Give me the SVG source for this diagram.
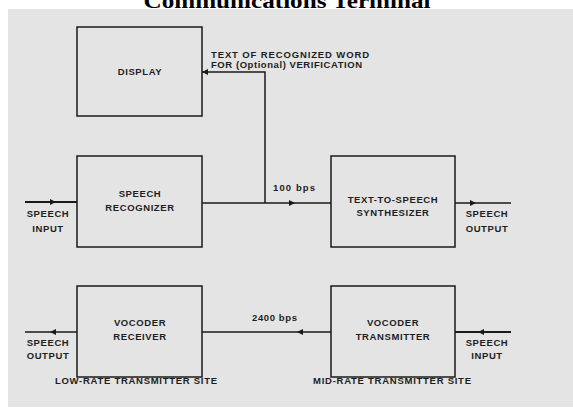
<svg xmlns="http://www.w3.org/2000/svg" width="573" height="410" viewBox="0 0 573 410">
<style>
.box{fill:none;stroke:#1a1a1a;stroke-width:1.5}
.ln{fill:none;stroke:#1a1a1a;stroke-width:1.5}
.lt{fill:none;stroke:#1a1a1a;stroke-width:2}
.t{font-family:"Liberation Sans",Arial,sans-serif;font-weight:bold;font-size:9.5px;fill:#1e1e1e;text-anchor:middle;letter-spacing:0.6px}
.tl{font-family:"Liberation Sans",Arial,sans-serif;font-weight:bold;font-size:9.5px;fill:#1e1e1e}
</style>
<defs>
<marker id="ah" viewBox="0 0 10 10" refX="10" refY="5" markerWidth="9" markerHeight="6" markerUnits="userSpaceOnUse" orient="auto">
<path d="M0,0 L10,5 L0,10 z" fill="#1a1a1a"/>
</marker>
</defs>
<rect x="0" y="0" width="573" height="410" fill="#ffffff"/>
<rect x="8" y="9" width="565" height="398" fill="#e4e4e4"/>
<text x="287" y="8" font-family="'Liberation Serif','Times New Roman',serif" font-weight="bold" font-size="22" text-anchor="middle" textLength="287" lengthAdjust="spacingAndGlyphs" fill="#000">Communications Terminal</text>

<g id="connectors">
<path class="lt" d="M25,202 L56,202" marker-end="url(#ah)"/>
<path class="lt" d="M56,202 L77,202"/>
<path class="ln" d="M202,203 L295,203" marker-end="url(#ah)"/>
<path class="ln" d="M295,203 L331,203"/>
<path class="ln" d="M265,203 L265,72 L202,72" marker-end="url(#ah)"/>
<path class="ln" d="M455,203 L476,203" marker-end="url(#ah)"/>
<path class="ln" d="M476,203 L511,203"/>
<path class="lt" d="M511,332 L478,332" marker-end="url(#ah)"/>
<path class="lt" d="M478,332 L455,332"/>
<path class="ln" d="M331,332 L297,332" marker-end="url(#ah)"/>
<path class="ln" d="M297,332 L202,332"/>
<path class="ln" d="M77,332 L50,332" marker-end="url(#ah)"/>
<path class="ln" d="M50,332 L25,332"/>
</g>

<g id="display">
<rect class="box" x="77" y="27" width="125" height="89"/>
<text class="t" x="140" y="75">DISPLAY</text>
</g>
<g id="recognizer">
<rect class="box" x="77" y="156" width="125" height="91"/>
<text class="t" x="140" y="197">SPEECH</text>
<text class="t" x="140" y="211">RECOGNIZER</text>
</g>
<g id="synthesizer">
<rect class="box" x="331" y="156" width="124" height="91"/>
<text class="t" x="393" y="203">TEXT-TO-SPEECH</text>
<text class="t" x="393" y="216">SYNTHESIZER</text>
</g>
<g id="receiver">
<rect class="box" x="77" y="286" width="125" height="91"/>
<text class="t" x="140" y="326">VOCODER</text>
<text class="t" x="140" y="340">RECEIVER</text>
</g>
<g id="transmitter">
<rect class="box" x="331" y="286" width="124" height="91"/>
<text class="t" x="393" y="326">VOCODER</text>
<text class="t" x="393" y="340">TRANSMITTER</text>
</g>

<g id="labels">
<text class="tl" x="211" y="58" textLength="158" lengthAdjust="spacing">TEXT OF RECOGNIZED WORD</text>
<text class="tl" x="211" y="68" textLength="151" lengthAdjust="spacing">FOR (Optional) VERIFICATION</text>
<text class="tl" x="273" y="191" textLength="42" lengthAdjust="spacing">100 bps</text>
<text class="tl" x="252" y="321" textLength="45" lengthAdjust="spacing">2400 bps</text>
<text class="t" x="48" y="217">SPEECH</text>
<text class="t" x="48" y="232">INPUT</text>
<text class="t" x="487" y="217">SPEECH</text>
<text class="t" x="487" y="232">OUTPUT</text>
<text class="t" x="48" y="346">SPEECH</text>
<text class="t" x="48" y="359">OUTPUT</text>
<text class="t" x="487" y="346">SPEECH</text>
<text class="t" x="487" y="359">INPUT</text>
<text class="tl" x="55" y="384" textLength="162" lengthAdjust="spacing">LOW-RATE TRANSMITTER SITE</text>
<text class="tl" x="313" y="384" textLength="158" lengthAdjust="spacing">MID-RATE TRANSMITTER SITE</text>
</g>
</svg>
